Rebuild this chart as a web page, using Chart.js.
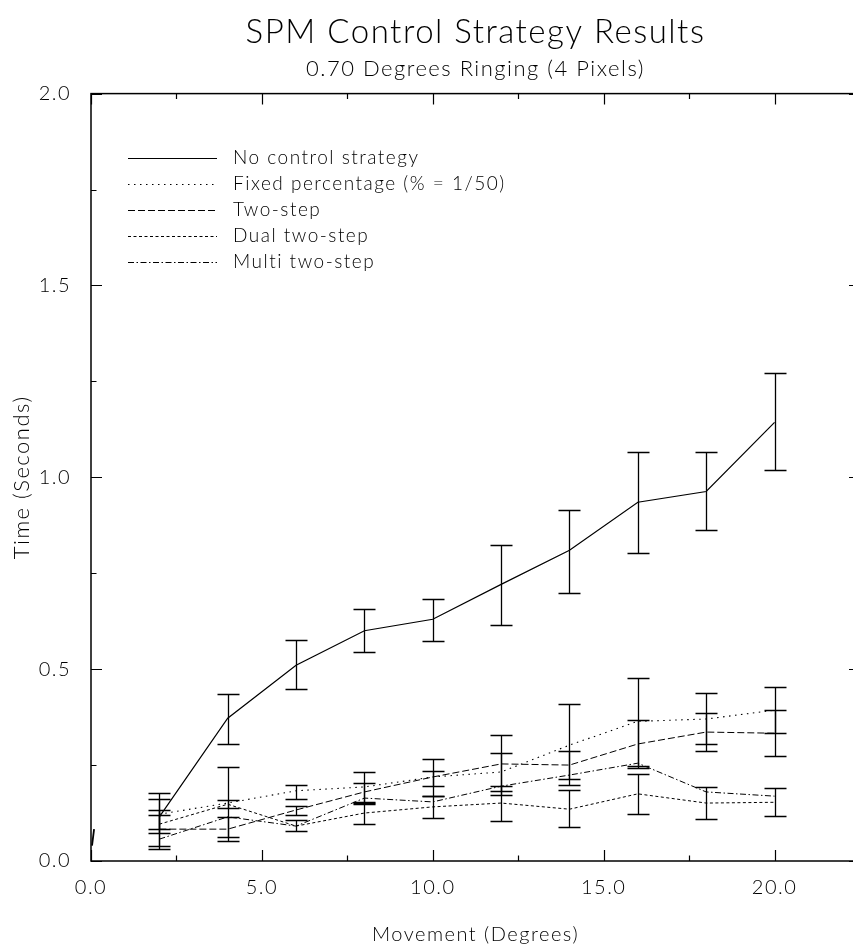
<!DOCTYPE html>
<html>
<head>
<meta charset="utf-8">
<script src="https://cdn.jsdelivr.net/npm/chart.js@4.4.1/dist/chart.umd.min.js"></script>
<style>
  html, body { margin: 0; padding: 0; background: #fff; overflow: hidden; width: 853px; height: 950px; }
  canvas { display: block; }
</style>
</head>
<body>
<canvas id="chart" width="872" height="950"></canvas>
<script>
// Movement amplitude (degrees) for every measured point
const movement = [2, 4, 6, 8, 10, 12, 14, 16, 18, 20];

// Mean settle time (seconds) and the error-bar limits for each strategy
const noControl     = [0.115, 0.372, 0.510, 0.600, 0.630, 0.721, 0.810, 0.935, 0.963, 1.143];
const noControlLow  = [0.039, 0.305, 0.448, 0.544, 0.573, 0.615, 0.698, 0.803, 0.862, 1.018];
const noControlHigh = [0.177, 0.435, 0.576, 0.656, 0.683, 0.823, 0.914, 1.065, 1.065, 1.271];

const fixedPct      = [0.122, 0.151, 0.183, 0.193, 0.219, 0.232, 0.302, 0.364, 0.370, 0.393];
const fixedPctLow   = [0.083, 0.062, 0.162, 0.148, 0.169, 0.182, 0.198, 0.247, 0.305, 0.333];
const fixedPctHigh  = [0.161, 0.245, 0.198, 0.232, 0.266, 0.281, 0.408, 0.476, 0.437, 0.453];

const twoStep       = [0.083, 0.083, 0.133, 0.180, 0.219, 0.253, 0.250, 0.305, 0.336, 0.333];
const twoStepLow    = [0.031, 0.052, 0.120, 0.155, 0.195, 0.172, 0.213, 0.242, 0.287, 0.274];
const twoStepHigh   = [0.133, 0.114, 0.143, 0.203, 0.235, 0.328, 0.287, 0.367, 0.385, 0.393];

const dualTwoStep     = [0.096, 0.148, 0.091, 0.125, 0.141, 0.151, 0.135, 0.175, 0.151, 0.153];
const dualTwoStepLow  = [0.072, 0.137, 0.078, 0.096, 0.112, 0.104, 0.088, 0.122, 0.109, 0.117];
const dualTwoStepHigh = [0.120, 0.159, 0.107, 0.150, 0.169, 0.195, 0.185, 0.227, 0.193, 0.190];

const multiTwoStep  = [0.057, 0.115, 0.091, 0.164, 0.154, 0.195, 0.224, 0.255, 0.180, 0.169];

// Short pen stroke near the origin
const penMarkX = [0.03, 0.09];
const penMarkY = [0.040, 0.083];

// Axis ticks
const xMajorTicks = [0, 5, 10, 15, 20];
const xTickLabels = ['0.0', '5.0', '10.0', '15.0', '20.0'];
const xMinorTicks = [2.5, 7.5, 12.5, 17.5, 22.5];
const yMajorTicks = [0, 0.5, 1.0, 1.5, 2.0];
const yTickLabels = ['0.0', '0.5', '1.0', '1.5', '2.0'];
const yMinorTicks = [0.25, 0.75, 1.25, 1.75];

const FONT = 'Lato';
const INK = '#000';
const SPACING = '1.5px';   // wide, plotter-style lettering

const pts = (xs, ys) => xs.map((x, i) => ({ x, y: ys[i] }));

const datasets = [
  { label: 'No control strategy', data: pts(movement, noControl), low: noControlLow, high: noControlHigh,
    borderDash: [], borderWidth: 1.2 },
  { label: 'Fixed percentage (% = 1/50)', data: pts(movement, fixedPct), low: fixedPctLow, high: fixedPctHigh,
    borderDash: [1.5, 4.5], borderWidth: 1.1 },
  { label: 'Two-step', data: pts(movement, twoStep), low: twoStepLow, high: twoStepHigh,
    borderDash: [7, 3], borderWidth: 1 },
  { label: 'Dual two-step', data: pts(movement, dualTwoStep), low: dualTwoStepLow, high: dualTwoStepHigh,
    borderDash: [3, 2.5], borderWidth: 1 },
  { label: 'Multi two-step', data: pts(movement, multiTwoStep),
    borderDash: [6, 2.5, 1.5, 2.5], borderWidth: 1 },
  { label: '', hideInLegend: true, data: pts(penMarkX, penMarkY), borderDash: [], borderWidth: 1.8 }
].map(d => Object.assign({ borderColor: INK, pointRadius: 0, tension: 0, fill: false }, d));

// Letter spacing for every text the chart draws
const letterSpacingPlugin = {
  id: 'letterSpacing',
  beforeDraw(chart) { chart.ctx.letterSpacing = SPACING; }
};

// Box frame with inward tick marks on all four sides
const framePlugin = {
  id: 'frame',
  afterDatasetsDraw(chart) {
    const { ctx, chartArea: a, scales: { x, y } } = chart;
    ctx.save();
    ctx.strokeStyle = INK;
    ctx.lineWidth = 1.5;
    ctx.strokeRect(a.left, a.top, a.right - a.left, a.bottom - a.top);
    ctx.lineWidth = 1.2;
    ctx.beginPath();
    const tickX = (v, len) => {
      const px = Math.round(x.getPixelForValue(v)) + 0.5;
      ctx.moveTo(px, a.bottom); ctx.lineTo(px, a.bottom - len);
      ctx.moveTo(px, a.top); ctx.lineTo(px, a.top + len);
    };
    const tickY = (v, len) => {
      const py = Math.round(y.getPixelForValue(v)) + 0.5;
      ctx.moveTo(a.left, py); ctx.lineTo(a.left + len, py);
      ctx.moveTo(a.right, py); ctx.lineTo(a.right - len, py);
    };
    xMajorTicks.forEach(v => tickX(v, 11));
    xMinorTicks.forEach(v => tickX(v, 5.5));
    yMajorTicks.forEach(v => tickY(v, 11));
    yMinorTicks.forEach(v => tickY(v, 5.5));
    ctx.stroke();
    ctx.restore();
  }
};

// Vertical error bars with flat caps
const errorBarPlugin = {
  id: 'errorBars',
  afterDatasetsDraw(chart) {
    const { ctx, scales: { x, y } } = chart;
    ctx.save();
    ctx.strokeStyle = INK;
    ctx.lineWidth = 1.3;
    ctx.setLineDash([]);
    chart.data.datasets.forEach(ds => {
      if (!ds.low || !ds.high) return;
      ds.data.forEach((p, i) => {
        const px = Math.round(x.getPixelForValue(p.x)) + 0.5;
        const yl = Math.round(y.getPixelForValue(ds.low[i])) + 0.5;
        const yh = Math.round(y.getPixelForValue(ds.high[i])) + 0.5;
        ctx.beginPath();
        ctx.moveTo(px, yl); ctx.lineTo(px, yh);
        ctx.moveTo(px - 11, yl); ctx.lineTo(px + 11, yl);
        ctx.moveTo(px - 11, yh); ctx.lineTo(px + 11, yh);
        ctx.stroke();
      });
    });
    ctx.restore();
  }
};

// Line-style key in the upper left of the plot
const keyPlugin = {
  id: 'styleKey',
  afterDatasetsDraw(chart) {
    const { ctx, chartArea: a } = chart;
    const x0 = a.left + 37, x1 = a.left + 126, tx = a.left + 142;
    let yRow = a.top + 64;
    ctx.save();
    ctx.font = `300 19px ${FONT}`;
    ctx.letterSpacing = SPACING;
    ctx.fillStyle = INK;
    ctx.textBaseline = 'middle';
    chart.data.datasets.forEach(ds => {
      if (ds.hideInLegend) return;
      ctx.strokeStyle = INK;
      ctx.lineWidth = 1;
      ctx.setLineDash(ds.borderDash);
      ctx.beginPath();
      ctx.moveTo(x0, Math.round(yRow) + 0.5);
      ctx.lineTo(x1, Math.round(yRow) + 0.5);
      ctx.stroke();
      ctx.fillText(ds.label, tx, yRow);
      yRow += 26;
    });
    ctx.restore();
  }
};

new Chart(document.getElementById('chart'), {
  type: 'line',
  data: { datasets },
  options: {
    responsive: false,
    animation: false,
    devicePixelRatio: 1,
    layout: { padding: { left: 0, right: 12, top: 0, bottom: 0 } },
    plugins: {
      legend: { display: false },
      tooltip: { enabled: false },
      title: {
        display: true, text: 'SPM Control Strategy Results', fullSize: false, color: INK,
        font: { family: FONT, size: 33, weight: 300 }, padding: { top: 12.2, bottom: 3 }
      },
      subtitle: {
        display: true, text: '0.70 Degrees Ringing (4 Pixels)', fullSize: false, color: INK,
        font: { family: FONT, size: 22, weight: 300 }, padding: { top: 0.6, bottom: 11.8 }
      }
    },
    scales: {
      x: {
        type: 'linear', min: 0, max: 22.5,
        grid: { display: false, drawTicks: false }, border: { display: false },
        afterBuildTicks: s => { s.ticks = xMajorTicks.map(v => ({ value: v })); },
        afterFit: s => { s.height = 89; },
        ticks: {
          autoSkip: false, maxRotation: 0, padding: 15, color: INK,
          font: { family: FONT, size: 20, weight: 300 },
          callback: (v, i) => xTickLabels[i]
        },
        title: {
          display: true, text: 'Movement (Degrees)', color: INK,
          font: { family: FONT, size: 20, weight: 300 }, padding: { top: 0, bottom: 3 }
        }
      },
      y: {
        type: 'linear', min: 0, max: 2,
        grid: { display: false, drawTicks: false }, border: { display: false },
        afterBuildTicks: s => { s.ticks = yMajorTicks.map(v => ({ value: v })); },
        afterFit: s => { s.width = 91; },
        ticks: {
          padding: 20, color: INK,
          font: { family: FONT, size: 20, weight: 300 },
          callback: (v, i) => yTickLabels[i]
        },
        title: {
          display: true, text: 'Time (Seconds)', color: INK,
          font: { family: FONT, size: 22, weight: 300 }, padding: { top: 9, bottom: 0 }
        }
      }
    }
  },
  plugins: [letterSpacingPlugin, errorBarPlugin, framePlugin, keyPlugin]
});
</script>
</body>
</html>
